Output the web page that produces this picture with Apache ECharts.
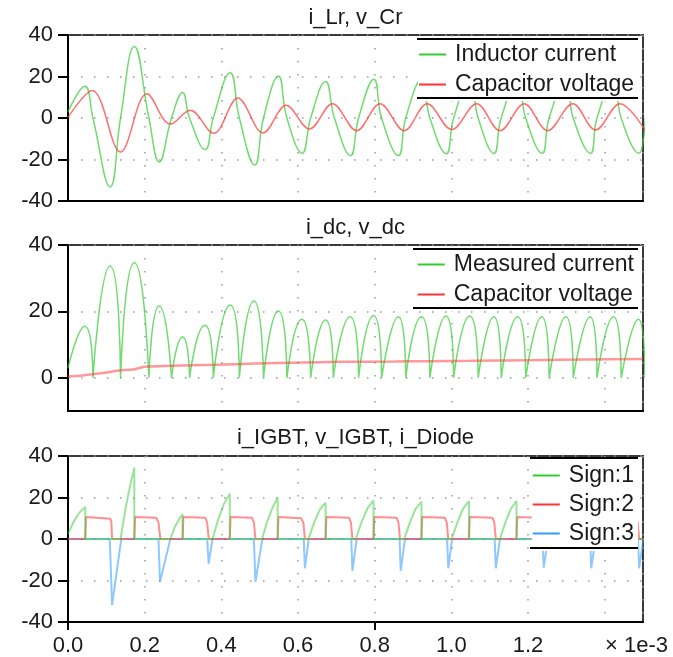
<!DOCTYPE html>
<html>
<head>
<meta charset="utf-8">
<script src="https://cdn.jsdelivr.net/npm/echarts@6/dist/echarts.min.js"></script>
<style>
  html, body { margin: 0; padding: 0; background: #fff; }
  #chart { width: 673px; height: 657px; }
</style>
</head>
<body>
<div id="chart"></div>
<script>
// Time values are in ms; the axis is read as "x 1e-3" seconds.
const xTickLabels = ['0.0', '0.2', '0.4', '0.6', '0.8', '1.0', '1.2'];
const panelTitles = ['i_Lr, v_Cr', 'i_dc, v_dc', 'i_IGBT, v_IGBT, i_Diode'];
const legendTop = ['Inductor current', 'Capacitor voltage'];
const legendMid = ['Measured current', 'Capacitor voltage'];
const legendBottom = ['Sign:1', 'Sign:2', 'Sign:3'];

// Resonant inductor current i_Lr: zero crossings and extremes
const inductorCurrent = [
  [0, 3], [0.044, 15.3], [0.065, 0], [0.110, -33.2], [0.137, 0], [0.173, 34.5],
  [0.211, 0], [0.238, -21.2], [0.270, 0], [0.299, 12.3], [0.317, 0], [0.358, -15.2],
  [0.379, 0], [0.423, 21.8], [0.447, 0], [0.487, -22.7], [0.510, 0], [0.549, 20.1],
  [0.571, 0], [0.611, -17.0], [0.633, 0], [0.672, 17.6], [0.695, 0], [0.737, -18.1],
  [0.758, 0], [0.798, 18.7], [0.818, 0], [0.862, -18.1], [0.881, 0], [0.922, 18.4],
  [0.944, 0], [0.987, -17.2], [1.006, 0], [1.048, 18.4], [1.070, 0], [1.111, -17.1],
  [1.130, 0], [1.173, 18.4], [1.194, 0], [1.237, -17.0], [1.255, 0], [1.299, 18.4],
  [1.318, 0], [1.363, -17.0], [1.380, 0], [1.423, 18.4], [1.443, 0], [1.489, -17.0],
  [1.506, 0]
];

// Resonant capacitor voltage v_Cr: extremes
const resonantVoltage = [
  [0, 0.3], [0.063, 13.3], [0.137, -16.4], [0.206, 11.7], [0.267, -2.9], [0.319, 3.7],
  [0.380, -7.4], [0.443, 9.6], [0.509, -7.2], [0.569, 6.1], [0.630, -5.3], [0.690, 6.9],
  [0.753, -6.1], [0.814, 6.9], [0.877, -6.1], [0.937, 6.9], [1.001, -5.6], [1.066, 6.9],
  [1.127, -6.1], [1.190, 6.9], [1.251, -6.1], [1.317, 6.9], [1.376, -5.8], [1.440, 6.9],
  [1.505, -5.8]
];

// Rectified dc current: one half-wave per entry (start, peak, end)
const measuredArches = [
  [[0, 3], [0.044, 15.5], [0.065, 0]],
  [[0.065, 0], [0.110, 33.7], [0.137, 0]],
  [[0.137, 0], [0.173, 34.7], [0.211, 0]],
  [[0.211, 0], [0.238, 21.6], [0.270, 0]],
  [[0.270, 0], [0.299, 12.3], [0.317, 0]],
  [[0.317, 0], [0.357, 15.8], [0.379, 0]],
  [[0.379, 0], [0.423, 21.9], [0.447, 0]],
  [[0.447, 0], [0.485, 23.1], [0.510, 0]],
  [[0.510, 0], [0.549, 20.1], [0.571, 0]],
  [[0.571, 0], [0.610, 17.6], [0.633, 0]],
  [[0.633, 0], [0.672, 17.4], [0.692, 0]],
  [[0.692, 0], [0.736, 18.4], [0.758, 0]],
  [[0.758, 0], [0.797, 18.8], [0.818, 0]],
  [[0.818, 0], [0.862, 18.4], [0.881, 0]],
  [[0.881, 0], [0.922, 18.4], [0.944, 0]],
  [[0.944, 0], [0.986, 18.6], [1.006, 0]],
  [[1.006, 0], [1.048, 18.6], [1.070, 0]],
  [[1.070, 0], [1.111, 18.4], [1.130, 0]],
  [[1.130, 0], [1.173, 18.4], [1.194, 0]],
  [[1.194, 0], [1.236, 18.4], [1.255, 0]],
  [[1.255, 0], [1.299, 18.4], [1.318, 0]],
  [[1.318, 0], [1.362, 18.4], [1.380, 0]],
  [[1.380, 0], [1.423, 18.4], [1.443, 0]],
  [[1.443, 0], [1.488, 17.6], [1.505, 0]]
];

// Output capacitor voltage v_dc
const dcVoltage = [
  [0, 0.4], [0.030, 0.6], [0.063, 1.1], [0.100, 1.6], [0.137, 2.3], [0.170, 2.5],
  [0.200, 3.3], [0.270, 3.6], [0.380, 3.9], [0.490, 4.3], [0.610, 4.6], [0.710, 4.8],
  [0.850, 4.9], [0.944, 5.0], [1.050, 5.1], [1.205, 5.3], [1.350, 5.5], [1.500, 5.7]
];

// IGBT current (Sign:1)
const igbtCurrent = [
  [0, 2.5], [0.015, 8.5], [0.030, 12.8], [0.045, 15.4], [0.045, 0],
  [0.137, 0], [0.149, 13.5], [0.161, 25], [0.173, 34.4], [0.173, 0],
  [0.267, 0], [0.278, 5.5], [0.289, 9.3], [0.299, 11.9], [0.299, 0],
  [0.377, 0], [0.392, 9.5], [0.407, 17], [0.422, 21.8], [0.422, 0],
  [0.506, 0], [0.520, 8.6], [0.534, 15.4], [0.547, 19.9], [0.547, 0],
  [0.627, 0], [0.642, 7.9], [0.657, 14.3], [0.672, 17.5], [0.672, 0],
  [0.751, 0], [0.766, 8.3], [0.782, 15], [0.797, 18.6], [0.797, 0],
  [0.877, 0], [0.892, 8.0], [0.907, 14.6], [0.922, 18.0], [0.922, 0],
  [1.001, 0], [1.016, 8.1], [1.031, 14.8], [1.046, 18.3], [1.046, 0],
  [1.127, 0], [1.141, 8.1], [1.156, 14.8], [1.170, 18.3], [1.170, 0],
  [1.252, 0], [1.266, 8.1], [1.281, 14.8], [1.295, 18.3], [1.295, 0],
  [1.377, 0], [1.391, 8.1], [1.406, 14.8], [1.420, 18.3], [1.420, 0],
  [1.520, 0]
];

// IGBT voltage (Sign:2)
const igbtVoltage = [
  [0, 0], [0.045, 0], [0.047, 10.6], [0.110, 9.8], [0.113, 8.5], [0.115, 0],
  [0.173, 0], [0.175, 10.6], [0.230, 10.3], [0.236, 8.0], [0.241, 0],
  [0.299, 0], [0.301, 10.6], [0.358, 10.3], [0.363, 8.0], [0.367, 0],
  [0.422, 0], [0.424, 10.6], [0.480, 10.3], [0.485, 8.0], [0.489, 0],
  [0.547, 0], [0.549, 10.6], [0.608, 10.0], [0.614, 8.0], [0.618, 0],
  [0.672, 0], [0.674, 10.6], [0.733, 10.3], [0.738, 8.0], [0.742, 0],
  [0.797, 0], [0.799, 10.6], [0.857, 10.3], [0.862, 8.0], [0.866, 0],
  [0.922, 0], [0.924, 10.6], [0.983, 10.3], [0.988, 8.0], [0.992, 0],
  [1.046, 0], [1.048, 10.6], [1.107, 10.3], [1.112, 8.0], [1.116, 0],
  [1.170, 0], [1.172, 10.6], [1.232, 10.3], [1.237, 8.0], [1.241, 0],
  [1.295, 0], [1.297, 10.6], [1.356, 10.3], [1.361, 8.0], [1.365, 0],
  [1.420, 0], [1.422, 10.6], [1.481, 10.3], [1.486, 8.0], [1.490, 0],
  [1.520, 0]
];

// Diode current (Sign:3)
const diodeCurrent = [
  [0, 0], [0.109, 0], [0.115, -31.8], [0.139, 0],
  [0.236, 0], [0.240, -20.6], [0.267, 0],
  [0.363, 0], [0.367, -11.9], [0.377, 0],
  [0.485, 0], [0.489, -20.6], [0.507, 0],
  [0.615, 0], [0.618, -14.1], [0.628, 0],
  [0.739, 0], [0.742, -15.4], [0.753, 0],
  [0.865, 0], [0.868, -15.4], [0.879, 0],
  [0.989, 0], [0.992, -14.1], [1.002, 0],
  [1.113, 0], [1.116, -14.1], [1.127, 0],
  [1.238, 0], [1.241, -13.8], [1.252, 0],
  [1.362, 0], [1.365, -14.1], [1.376, 0],
  [1.487, 0], [1.490, -14.1], [1.501, 0],
  [1.520, 0]
];

const FONT = 'Liberation Sans';
const TEXT = '#1a1a1a';
const GREEN = '#33cc33', RED = '#ff3333', BLUE = '#3399ff';

// each half-wave is its own segment, so the zeros stay sharp
const measuredCurrent = [];
measuredArches.forEach(arch => {
  arch.forEach(p => measuredCurrent.push(p));
  measuredCurrent.push([arch[arch.length - 1][0], null]);
});

const dotted = { show: true, lineStyle: { color: '#9a9a9a', width: 1.5, type: [1.5, 11.5] } };

function tickText(v) {
  const i = Math.round(v / 0.2);
  return (Math.abs(v - i * 0.2) < 1e-6 && xTickLabels[i] !== undefined) ? xTickLabels[i] : '';
}

function xAxisFor(grid, showLabels) {
  return {
    type: 'value', gridIndex: grid, min: 0, max: 1.5, interval: 0.2,
    axisLine: { show: true, onZero: false, lineStyle: { color: '#000', width: 2 } },
    axisTick: { show: false },
    axisLabel: { show: showLabels, fontSize: 22, fontFamily: FONT, color: TEXT, margin: 13, formatter: tickText },
    splitLine: dotted
  };
}

function yAxisFor(grid, min, max, interval, custom) {
  const ax = {
    type: 'value', gridIndex: grid, min: min, max: max, interval: interval,
    axisLine: { show: true, onZero: false, lineStyle: { color: '#000', width: 2 } },
    axisTick: { show: true, length: 10, lineStyle: { color: '#000', width: 2 } },
    axisLabel: { fontSize: 22, fontFamily: FONT, color: TEXT, margin: 15 },
    splitLine: dotted
  };
  if (custom) {
    ax.axisTick.customValues = custom;
    ax.axisLabel.customValues = custom;
  }
  return ax;
}

function lineSeries(name, data, idx, color, opts) {
  return Object.assign({
    type: 'line', name: name, data: data, xAxisIndex: idx, yAxisIndex: idx,
    symbol: 'none', showSymbol: false, animation: false, z: 2,
    itemStyle: { color: color },
    lineStyle: { color: color, width: 1.5, opacity: 0.7 }
  }, opts || {});
}

function legendFor(names, top, pad, gap) {
  return {
    data: names, orient: 'vertical', right: 35, top: top, padding: pad, itemGap: gap, z: 10,
    icon: 'rect', itemWidth: 27, itemHeight: 2, backgroundColor: '#fff', selectedMode: false,
    textStyle: { fontSize: 23, fontFamily: FONT, color: TEXT, padding: [0, 0, 0, 4] }
  };
}

function rule(x1, x2, y) {
  return { type: 'line', z: 50, shape: { x1: x1, y1: y, x2: x2, y2: y }, style: { stroke: '#000', lineWidth: 2 } };
}

function label(text, x, y, align) {
  return { type: 'text', z: 50, x: x, y: y,
    style: { text: text, font: '22px "Liberation Sans"', fill: TEXT, align: align, verticalAlign: 'middle' } };
}

const chart = echarts.init(document.getElementById('chart'), null, { renderer: 'canvas' });
chart.setOption({
  backgroundColor: '#fff',
  animation: false,
  grid: [
    { left: 68, top: 35, width: 575, height: 166, show: true, borderColor: '#3a3a3a', borderWidth: 2 },
    { left: 68, top: 245, width: 575, height: 166, show: true, borderColor: '#3a3a3a', borderWidth: 2 },
    { left: 68, top: 456, width: 575, height: 166, show: true, borderColor: '#3a3a3a', borderWidth: 2 }
  ],
  xAxis: [
    xAxisFor(0, false),
    xAxisFor(1, false),
    xAxisFor(2, true),
    {
      type: 'value', gridIndex: 2, min: 0, max: 1.5, position: 'bottom',
      axisLine: { show: false, onZero: false },
      axisTick: { show: true, length: 8, customValues: [0, 0.8], lineStyle: { color: '#000', width: 2 } },
      axisLabel: { show: false }, splitLine: { show: false }
    }
  ],
  yAxis: [
    yAxisFor(0, -40, 40, 20),
    yAxisFor(1, -10, 40, 10, [0, 20, 40]),
    yAxisFor(2, -40, 40, 20)
  ],
  legend: [
    legendFor(legendTop, 39, [4, 4, 5, 1], 7),
    legendFor(legendMid, 249, [4, 4, 5, 1], 7),
    legendFor(legendBottom, 458, [6, 4, 6, 1], 6)
  ],
  graphic: { elements: [
    label(panelTitles[0], 355.5, 18, 'center'),
    label(panelTitles[1], 355.5, 228, 'center'),
    label(panelTitles[2], 355.5, 438, 'center'),
    { type: 'text', z: 50, x: 668, y: 646,
      style: { text: '\u00d7 1e-3', font: '22px "Liberation Sans"', fill: TEXT, align: 'right', verticalAlign: 'middle' } },
    rule(417, 638, 39), rule(417, 638, 98),
    rule(413, 638, 249), rule(413, 638, 308),
    rule(530, 638, 458), rule(530, 638, 548)
  ] },
  series: [
    lineSeries(legendTop[0], inductorCurrent, 0, GREEN, { smooth: 0.45 }),
    lineSeries(legendTop[1], resonantVoltage, 0, RED, { smooth: 0.36 }),
    lineSeries(legendMid[0], measuredCurrent, 1, GREEN, { smooth: 0.7, connectNulls: false }),
    lineSeries(legendMid[1], dcVoltage, 1, RED, { smooth: 0.3, lineStyle: { color: RED, width: 2.5, opacity: 0.5 } }),
    lineSeries(legendBottom[0], igbtCurrent, 2, GREEN, { z: 3, lineStyle: { color: GREEN, width: 2, opacity: 0.5 } }),
    lineSeries(legendBottom[1], igbtVoltage, 2, RED, { z: 2, lineStyle: { color: RED, width: 2, opacity: 0.55 } }),
    lineSeries(legendBottom[2], diodeCurrent, 2, BLUE, { z: 1, lineStyle: { color: BLUE, width: 2, opacity: 0.55 } })
  ]
});
</script>
</body>
</html>
